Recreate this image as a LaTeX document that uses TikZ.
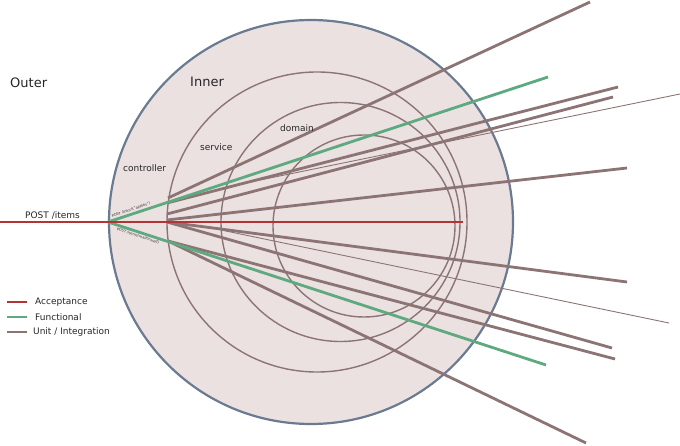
\documentclass[tikz,border=0pt]{standalone}
\usepackage{fontspec}
\setmainfont{DejaVu Sans}
\usetikzlibrary{positioning}

\definecolor{ringfill}{HTML}{EBE1E1}
\definecolor{ringedge}{HTML}{6A7A90}
\definecolor{unitcol}{HTML}{8C7474}
\definecolor{funccol}{HTML}{5EA97F}
\definecolor{acccol}{HTML}{B33434}

\tikzset{
  layer/.style={draw=unitcol,line width=1.4pt},
  unitline/.style={draw=unitcol,line width=2.8pt},
  thinline/.style={draw=unitcol,line width=0.9pt},
  funcline/.style={draw=funccol,line width=2.8pt},
  accline/.style={draw=acccol,line width=2.8pt},
  label/.style={font=\fontsize{9}{10}\selectfont,text=black!85,anchor=west,inner sep=0pt},
  biglabel/.style={font=\fontsize{13}{15}\selectfont,text=black!85,anchor=west,inner sep=0pt},
  testname/.style={font=\fontsize{3.6}{4}\selectfont,text=black!80,inner sep=0pt}
}

\begin{document}
\begin{tikzpicture}[x=1pt,y=1pt]
\useasboundingbox (0,0) rectangle (680,445);

% outer and inner rings
\draw[fill=ringfill,draw=ringedge,line width=2.2pt] (311,223) circle (202);
\draw[layer] (317,223) circle (150);
\draw[layer] (340.5,223) circle (119.5);
\draw[layer] (364,219) circle (91);

\coordinate (entry) at (108,223);
\coordinate (fan) at (167,223);

% unit / integration tests
\draw[unitline] (168,247) -- (590,443);
\draw[unitline] (167,242) -- (618,358);
\draw[unitline] (167,231) -- (613,348);
\draw[thinline] (226,258) -- (680,351);
\draw[unitline] (167,225) -- (627,277);
\draw[unitline] (fan) -- (627,163);
\draw[thinline] (221,215) -- (669,122);
\draw[unitline] (fan) -- (612,97);
\draw[unitline] (168,204) -- (615,86);
\draw[unitline] (168,204) -- (586,2);

% functional tests
\draw[funcline] (entry) -- (548,368);
\draw[funcline] (entry) -- (546,80);

% acceptance test
\draw[accline] (0,223) -- (463,223);

\node[biglabel] (outer) at (10,362) {Outer};
\node[biglabel] (inner) at (190,363) {Inner};
\node[label] (controller) at (123,277) {controller};
\node[label] (service) at (200,298) {service};
\node[label] (domain) at (280,317) {domain};
\node[label] (post) at (25,230) {POST /items};
\node[testname,rotate=18.7] (okname) at (131,235) {POST /items("apples")};
\node[testname,rotate=-18] (badname) at (138,209) {POST /items(malformed)};

% legend
\coordinate (acc) at (7,143);
\coordinate (func) at (7,128);
\coordinate (unit) at (7,113);
\draw[accline,line width=2.5pt] (acc) -- ++(20,0) coordinate (accend);
\draw[funcline,line width=2.5pt] (func) -- ++(20,0) coordinate (funcend);
\draw[unitline,line width=2.5pt] (unit) -- ++(20,0) coordinate (unitend);
\node[label,right=8pt of accend] {Acceptance};
\node[label,right=8pt of funcend] {Functional};
\node[label,right=6pt of unitend] {Unit / Integration};

\end{tikzpicture}
\end{document}
